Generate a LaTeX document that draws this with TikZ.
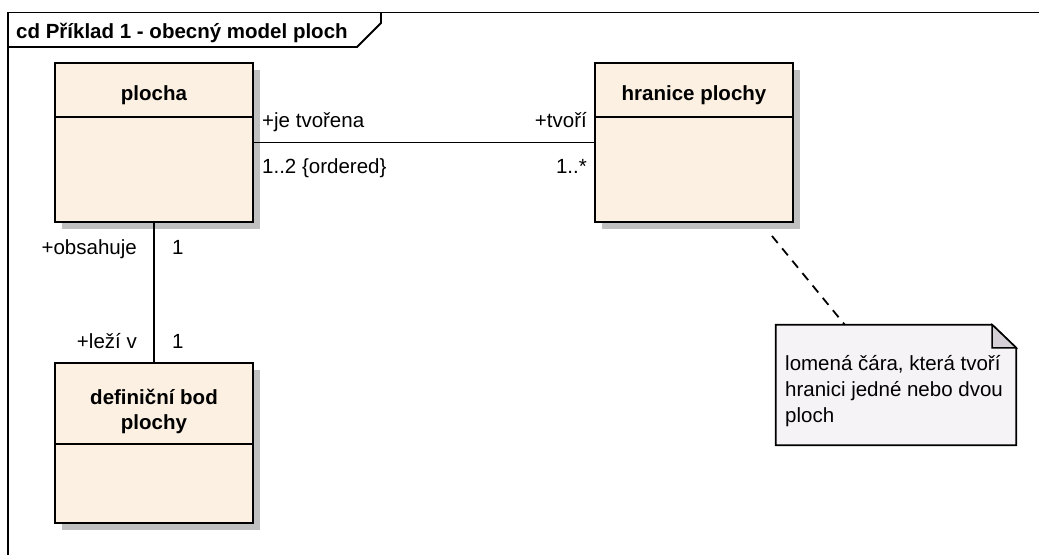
\documentclass[tikz,border=0pt]{standalone}
\usepackage{fontspec}
\setmainfont{Liberation Sans}
\usetikzlibrary{shadows,calc}
\definecolor{clsfill}{RGB}{251,240,225}
\definecolor{notefill}{RGB}{246,243,246}
\definecolor{foldfill}{RGB}{212,208,214}
\definecolor{shadowgray}{RGB}{192,192,192}
\begin{document}
\begin{tikzpicture}[x=1pt,y=-1pt,
  cls/.style={draw, line width=1.8pt, fill=clsfill, minimum width=198pt, inner sep=0pt,
    drop shadow={shadow xshift=7pt, shadow yshift=-7pt, fill=shadowgray, opacity=1}},
  divider/.style={line width=1.8pt},
  ctitle/.style={font=\bfseries\fontsize{20.5}{25}\selectfont, inner sep=0pt, align=center},
  lbl/.style={font=\fontsize{20.5}{26}\selectfont, inner sep=0pt},
  assoc/.style={line width=1.8pt},
  notelink/.style={line width=1.8pt, dash pattern=on 9pt off 7pt},
  framestyle/.style={line width=1.8pt}]
\useasboundingbox (0,0) rectangle (1039,555);
% frame
\draw[framestyle] (8,555) -- (8,12.5) -- (1039,12.5);
\draw[framestyle] (8,47) -- (357,47) -- (381,23) -- (381,12.5);
\node[ctitle, anchor=base west] (frametitle) at (16,38) {cd Příklad 1 - obecný model ploch};
% classes
\node[cls, minimum height=159pt] (plocha) at (154,142.5) {};
\draw[divider] ($(plocha.north west)+(0,55)$) -- ($(plocha.north east)+(0,55)$);
\node[ctitle, anchor=base] (plochaT) at ($(plocha.north)+(0,38)$) {plocha};

\node[cls, minimum height=159pt] (hranice) at (694,142.5) {};
\draw[divider] ($(hranice.north west)+(0,55)$) -- ($(hranice.north east)+(0,55)$);
\node[ctitle, anchor=base] (hraniceT) at ($(hranice.north)+(0,38)$) {hranice plochy};

\node[cls, minimum height=160pt] (bod) at (154,443) {};
\draw[divider] ($(bod.north west)+(0,82)$) -- ($(bod.north east)+(0,82)$);
\node[ctitle] (bodT) at (154,411) {definiční bod\\plochy};

% associations
\draw[assoc] (plocha) -- (hranice);
\draw[assoc] (plocha) -- (bod);
\node[lbl, anchor=base west] (l1) at (262,127) {+je tvořena};
\node[lbl, anchor=base west] (l2) at (262,173) {1..2 \{ordered\}};
\node[lbl, anchor=base east] (l3) at (587,127) {+tvoří};
\node[lbl, anchor=base east] (l4) at (587,173) {1..*};
\node[lbl, anchor=base east] (l5) at (137,254) {+obsahuje};
\node[lbl, anchor=base west] (l6) at (172,254) {1};
\node[lbl, anchor=base east] (l7) at (137,348) {+leží v};
\node[lbl, anchor=base west] (l8) at (172,348) {1};

% note
\node[minimum width=240pt, minimum height=120pt, inner sep=0pt] (note) at (896,385) {};
\draw[line width=1.8pt, fill=notefill] (note.north west) -- ($(note.north east)+(-24,0)$)
  -- ($(note.north east)+(0,23)$) -- (note.south east) -- (note.south west) -- cycle;
\draw[line width=1.5pt, fill=foldfill] ($(note.north east)+(-24,0)$) -- ($(note.north east)+(-24,23)$)
  -- ($(note.north east)+(0,23)$) -- cycle;
\node[lbl, align=left, anchor=base west] (noteT) at (785,422) {lomená čára, která tvoří\\hranici jedné nebo dvou\\ploch};
\coordinate (linkstart) at (772,236);
\draw[notelink] (linkstart) -- ($(note.north west)+(69,0)$);
\end{tikzpicture}
\end{document}
